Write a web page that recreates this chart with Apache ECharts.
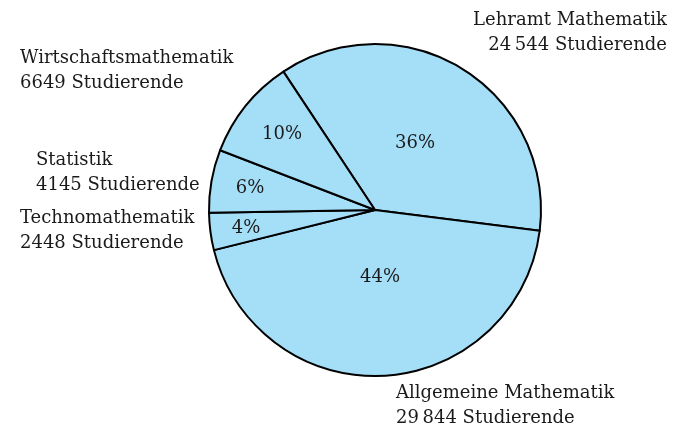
<!DOCTYPE html>
<html><head><meta charset="utf-8">
<script src="https://cdn.jsdelivr.net/npm/echarts@6/dist/echarts.min.js"></script>
<style>html,body{margin:0;padding:0;background:#fff}#c{width:679px;height:430px}</style>
</head><body><div id="c"></div>
<script>
const names = ['Lehramt Mathematik','Allgemeine Mathematik','Technomathematik','Statistik','Wirtschaftsmathematik'];
const counts = [24544, 29844, 2448, 4145, 6649];
const countLabels = ['24\u2009544','29\u2009844','2448','4145','6649'];

const FONT = '"DejaVu Serif", serif';
const outerPos = [
  {x: 667, y: 33, align: 'right'},
  {x: 396, y: 406, align: 'left'},
  {x: 20, y: 231, align: 'left'},
  {x: 36, y: 173, align: 'left'},
  {x: 20, y: 71, align: 'left'}
];
const innerPos = [
  {x: 415, y: 143}, {x: 380, y: 277}, {x: 246, y: 228}, {x: 250, y: 188}, {x: 282, y: 134}
];
const data = names.map((n, i) => ({name: n, value: counts[i]}));
const chart = echarts.init(document.getElementById('c'));
const base = {
  type: 'pie', center: [375, 210], radius: 166, startAngle: 123.5, clockwise: true,
  silent: true, animation: false, data: data,
  labelLine: {show: false}
};
chart.setOption({
  backgroundColor: '#fff',
  series: [
    Object.assign({}, base, {
      itemStyle: {color: '#A5DEF7', borderColor: '#000', borderWidth: 2},
      label: {show: true, position: 'inside', fontFamily: FONT, fontSize: 18, color: '#1a1a1a',
        formatter: p => Math.round(p.percent) + '%'},
      labelLayout: p => ({x: innerPos[p.dataIndex].x, y: innerPos[p.dataIndex].y, align: 'center', verticalAlign: 'middle'})
    }),
    Object.assign({}, base, {
      itemStyle: {color: 'transparent', borderWidth: 0},
      label: {show: true, position: 'outside', overflow: 'none', fontFamily: FONT, fontSize: 18, color: '#1a1a1a', lineHeight: 25,
        formatter: p => p.name + '\n' + countLabels[p.dataIndex] + ' Studierende'},
      labelLayout: p => ({x: outerPos[p.dataIndex].x, y: outerPos[p.dataIndex].y, align: outerPos[p.dataIndex].align, verticalAlign: 'middle'})
    })
  ]
});
</script></body></html>
